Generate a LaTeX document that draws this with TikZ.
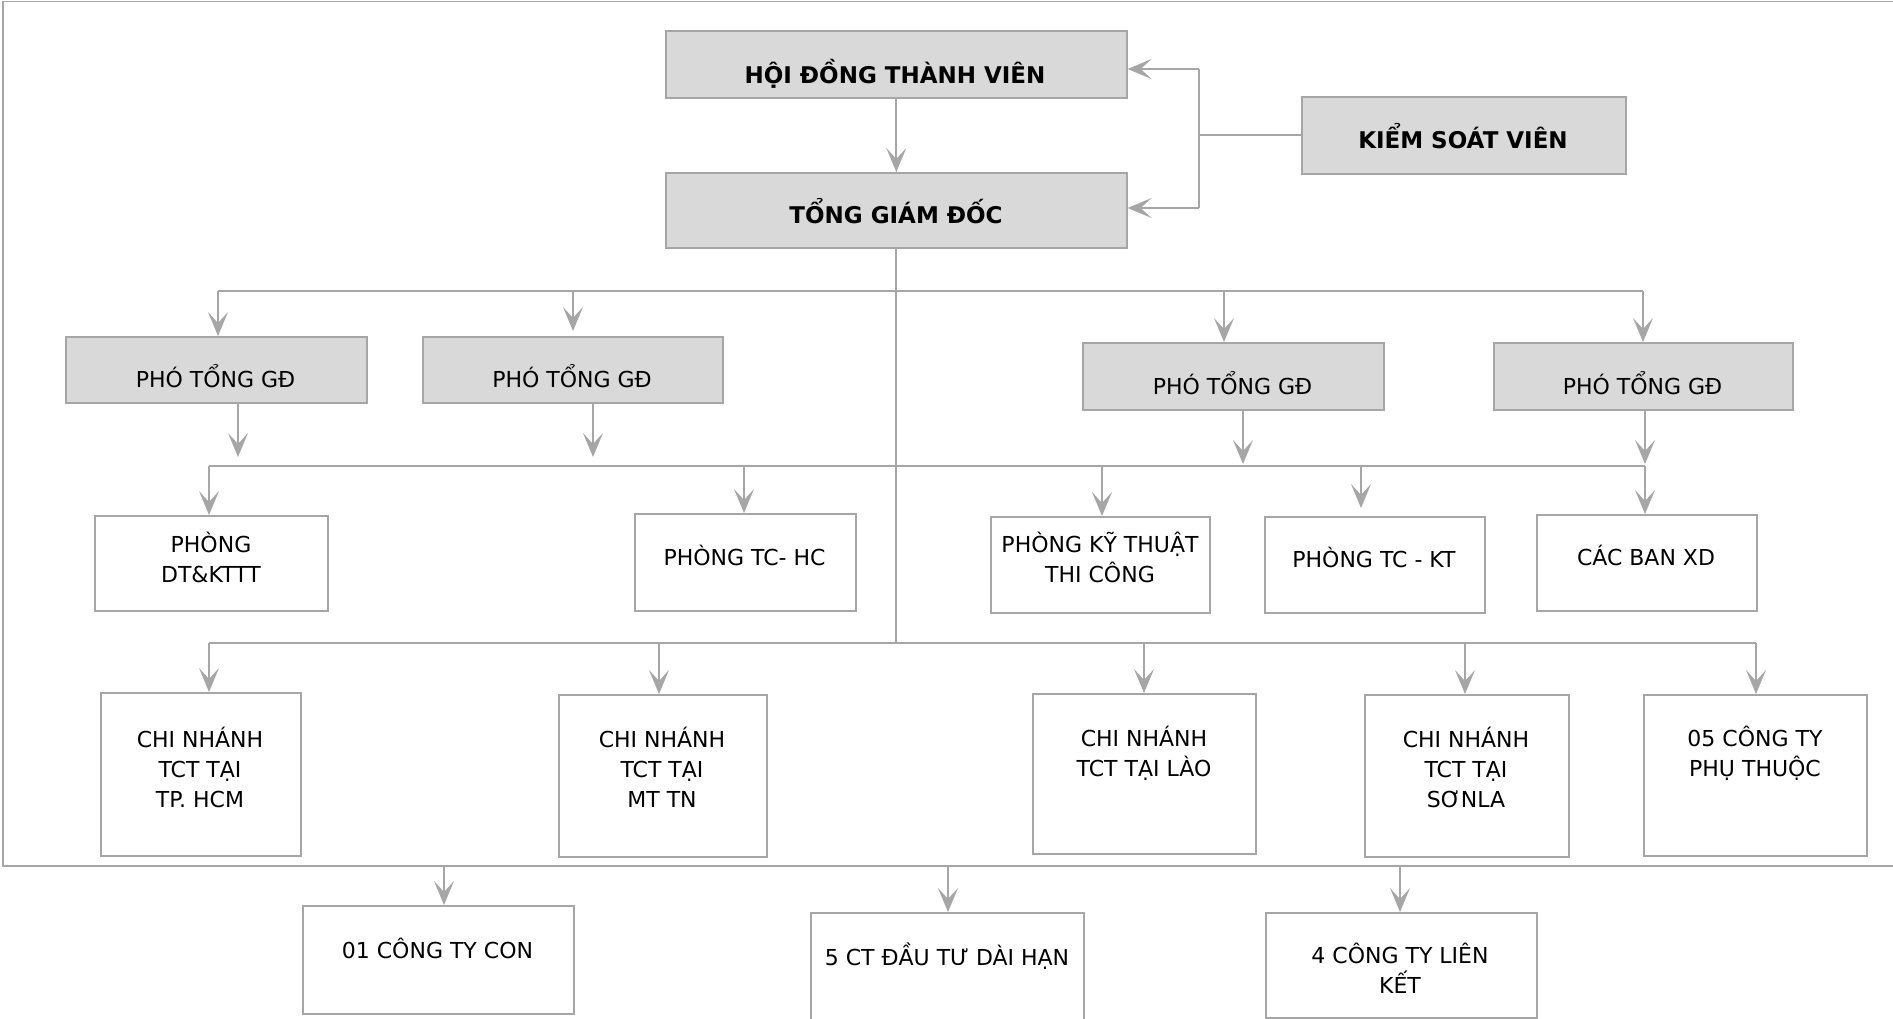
\documentclass[tikz,border=0pt]{standalone}
\usepackage{fontspec}
\setmainfont{DejaVu Sans}
\usetikzlibrary{arrows.meta}
\definecolor{lg}{RGB}{166,166,166}
\definecolor{fillg}{RGB}{217,217,217}
\begin{document}
\begin{tikzpicture}[x=1pt,y=-1pt,
  box/.style={draw=lg, line width=1.6pt, inner sep=0pt, anchor=north west, fill=white},
  gbox/.style={box, fill=fillg},
  ln/.style={draw=lg, line width=1.8pt},
  arr/.style={draw=lg, line width=1.8pt, -{Stealth[length=24pt,width=20pt,inset=11pt]}},
  txt/.style={font=\fontsize{22}{30}\selectfont, inner sep=0pt, align=center, anchor=base},
  btxt/.style={font=\fontsize{23}{30}\selectfont\bfseries, inner sep=0pt, align=center, anchor=base}]
\clip (0,0) rectangle (1893,1018);
\fill[white] (0,0) rectangle (1893,1018);

% frame
\draw[ln] (1893,1.5) -- (3,1.5) -- (3,866) -- (1893,866);

% boxes
\node[gbox, minimum width=461pt, minimum height=67pt] (hdtv) at (665,30) {};
\node[gbox, minimum width=461pt, minimum height=75pt] (tgd) at (665,172) {};
\node[gbox, minimum width=324pt, minimum height=77pt] (ksv) at (1301,96) {};
\node[gbox, minimum width=301pt, minimum height=66pt] (p1) at (65,336) {};
\node[gbox, minimum width=300pt, minimum height=66pt] (p2) at (422,336) {};
\node[gbox, minimum width=301pt, minimum height=67pt] (p3) at (1082,342) {};
\node[gbox, minimum width=299pt, minimum height=67pt] (p4) at (1493,342) {};
\node[box, minimum width=233pt, minimum height=95pt] (dt) at (94,515) {};
\node[box, minimum width=221pt, minimum height=97pt] (tchc) at (634,513) {};
\node[box, minimum width=219pt, minimum height=96pt] (kt) at (990,516) {};
\node[box, minimum width=220pt, minimum height=96pt] (tckt) at (1264,516) {};
\node[box, minimum width=220pt, minimum height=96pt] (ban) at (1536,514) {};
\node[box, minimum width=200pt, minimum height=163pt] (c1) at (100,692) {};
\node[box, minimum width=208pt, minimum height=162pt] (c2) at (558,694) {};
\node[box, minimum width=223pt, minimum height=160pt] (c3) at (1032,693) {};
\node[box, minimum width=204pt, minimum height=162pt] (c4) at (1364,694) {};
\node[box, minimum width=223pt, minimum height=161pt] (c5) at (1643,694) {};
\node[box, minimum width=271pt, minimum height=108pt] (b1) at (302,905) {};
\node[box, minimum width=273pt, minimum height=120pt] (b2) at (810,912) {};
\node[box, minimum width=271pt, minimum height=105pt] (b3) at (1265,912) {};

% texts (anchor=base is the baseline of the last line)
\node[btxt] (thdtv) at (895,83) {HỘI ĐỒNG THÀNH VIÊN};
\node[btxt] (ttgd) at (896,223) {TỔNG GIÁM ĐỐC};
\node[btxt] (tksv) at (1463,148) {KIỂM SOÁT VIÊN};
\node[txt] (tp1) at (215.5,387) {PHÓ TỔNG GĐ};
\node[txt] (tp2) at (572,387) {PHÓ TỔNG GĐ};
\node[txt] (tp3) at (1232.5,394) {PHÓ TỔNG GĐ};
\node[txt] (tp4) at (1642.5,394) {PHÓ TỔNG GĐ};
\node[txt] (tdt) at (211,582) {PHÒNG\\DT\&KTTT};
\node[txt] (ttchc) at (744.5,565) {PHÒNG TC- HC};
\node[txt] (tkt) at (1100,582) {PHÒNG KỸ THUẬT\\THI CÔNG};
\node[txt] (ttckt) at (1374,567) {PHÒNG TC - KT};
\node[txt] (tban) at (1646,565) {CÁC BAN XD};
\node[txt] (tc1) at (200,807) {CHI NHÁNH\\TCT TẠI\\TP. HCM};
\node[txt] (tc2) at (662,807) {CHI NHÁNH\\TCT TẠI\\MT TN};
\node[txt] (tc3) at (1144,776) {CHI NHÁNH\\TCT TẠI LÀO};
\node[txt] (tc4) at (1466,807) {CHI NHÁNH\\TCT TẠI\\SƠNLA};
\node[txt] (tc5) at (1755,776) {05 CÔNG TY\\PHỤ THUỘC};
\node[txt] (tb1) at (437.5,958) {01 CÔNG TY CON};
\node[txt] (tb2) at (947,965) {5 CT ĐẦU TƯ DÀI HẠN};
\node[txt] (tb3) at (1400,993) {4 CÔNG TY LIÊN\\KẾT};

% top connectors
\draw[arr] (hdtv.south) -- (tgd.north);
\coordinate (kt1) at (1199,69);
\coordinate (kb1) at (1199,208);
\draw[ln] (kt1) -- (kb1);
\draw[ln] (ksv.west) -- (ksv.west -| kt1);
\draw[arr] (kt1) -- (kt1 -| hdtv.east);
\draw[arr] (kb1) -- (kb1 -| tgd.east);

% trunk and branch lines
\coordinate (trb) at (895,643);
\draw[ln] (tgd.south) -- (tgd.south |- trb);
\coordinate (l1a) at (218,291);
\coordinate (l1b) at (1643,291);
\coordinate (l2a) at (209,466);
\coordinate (l2b) at (1645,466);
\coordinate (l3a) at (209,643);
\coordinate (l3b) at (1756,643);
\draw[ln] (l1a) -- (l1b);
\draw[ln] (l2a) -- (l2b);
\draw[ln] (l3a) -- (l3b);

% level 1 arrows
\draw[arr] (l1a) -- (l1a |- p1.north);
\coordinate (a2) at (573,291);
\draw[arr] (a2) -- (573,331);
\coordinate (a3) at (1224,291);
\draw[arr] (a3) -- (a3 |- p3.north);
\draw[arr] (l1b) -- (l1b |- p4.north);

% PTGD down arrows
\coordinate (d1) at (238,402);
\draw[arr] (d1) -- (238,457);
\coordinate (d2) at (593,402);
\draw[arr] (d2) -- (593,457);
\coordinate (d3) at (1243,409);
\draw[arr] (d3) -- (1243,464);
\coordinate (d4) at (1645,409);
\draw[arr] (d4) -- (1645,464);

% level 2 arrows
\draw[arr] (l2a) -- (l2a |- dt.north);
\coordinate (e2) at (744,466);
\draw[arr] (e2) -- (e2 |- tchc.north);
\coordinate (e3) at (1102,466);
\draw[arr] (e3) -- (e3 |- kt.north);
\coordinate (e4) at (1361,466);
\draw[arr] (e4) -- (1361,508);
\draw[arr] (l2b) -- (l2b |- ban.north);

% level 3 arrows
\draw[arr] (l3a) -- (l3a |- c1.north);
\coordinate (f2) at (659,643);
\draw[arr] (f2) -- (f2 |- c2.north);
\coordinate (f3) at (1144,643);
\draw[arr] (f3) -- (f3 |- c3.north);
\coordinate (f4) at (1465,643);
\draw[arr] (f4) -- (f4 |- c4.north);
\draw[arr] (l3b) -- (l3b |- c5.north);

% bottom arrows from frame
\coordinate (g1) at (444,866);
\draw[arr] (g1) -- (g1 |- b1.north);
\coordinate (g2) at (948,866);
\draw[arr] (g2) -- (g2 |- b2.north);
\coordinate (g3) at (1400,866);
\draw[arr] (g3) -- (g3 |- b3.north);
\end{tikzpicture}
\end{document}
